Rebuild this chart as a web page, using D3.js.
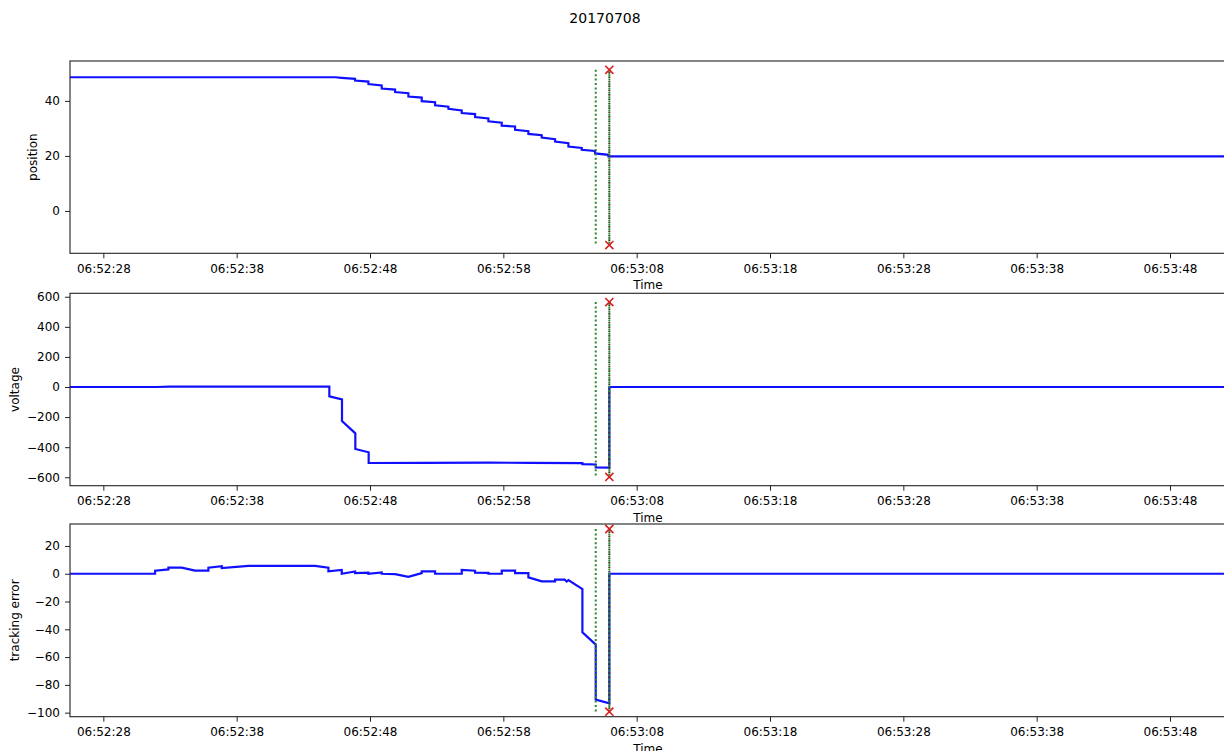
<!DOCTYPE html>
<html>
<head>
<meta charset="utf-8">
<script src="https://cdn.jsdelivr.net/npm/d3@7"></script>
<style>
  html, body { margin: 0; padding: 0; background: #fff; }
  svg { display: block; font-family: "DejaVu Sans", sans-serif; }
</style>
</head>
<body>
<svg id="chart" width="1224" height="751"></svg>
<script>
// Recording date and time axis
const recordDay = "2017-07-08";
const chartTitle = "20170708";
const timeTickLabels = ["06:52:28", "06:52:38", "06:52:48", "06:52:58", "06:53:08",
                        "06:53:18", "06:53:28", "06:53:38", "06:53:48"];
// Visible time window, seconds after 06:52:00
const timeWindow = [25.5, 112.2];

// Position trace: seconds after 06:52:00 and value
const positionTime = [25.5, 45.4, 45.88, 46.88, 46.88, 47.88, 47.88, 48.88, 48.88, 49.88, 49.88,
  50.88, 50.88, 51.88, 51.88, 52.88, 52.88, 53.88, 53.88, 54.88, 54.88, 55.88, 55.88,
  56.88, 56.88, 57.88, 57.88, 58.88, 58.88, 59.88, 59.88, 60.88, 60.88, 61.88, 61.88,
  62.88, 62.88, 63.88, 63.88, 64.88, 64.88, 65.88, 65.88, 112.2];
const positionValue = [48.6, 48.6, 48.4, 48.0, 47.4, 47.0, 46.1, 45.6, 44.5, 44.1, 43.2,
  42.8, 41.6, 41.2, 39.9, 39.5, 38.4, 37.9, 37.1, 36.5, 35.6, 35.2, 34.1,
  33.6, 32.6, 32.1, 31.0, 30.7, 29.5, 29.0, 28.0, 27.5, 26.7, 26.1, 25.2,
  24.6, 23.4, 22.9, 22.2, 21.8, 20.9, 20.4, 19.8, 19.8];

// Voltage trace
const voltageTime = [25.5, 32.0, 33.0, 40.0, 44.95, 44.95, 45.9, 45.9, 46.9, 46.9,
  47.9, 47.9, 52.0, 57.0, 60.0, 63.93, 63.93, 64.93, 64.93, 65.95, 65.95, 112.2];
const voltageValue = [0, 0, 2, 3, 3, -62, -82, -226, -308, -412,
  -434, -505, -504, -503, -504, -506, -513, -515, -534, -536, 0, 0];

// Tracking error trace
const errorTime = [25.5, 31.88, 31.88, 32.88, 32.88, 33.88, 34.88, 35.88, 35.88, 36.88,
  36.88, 38.88, 43.88, 44.88, 44.88, 45.88, 45.88, 46.88, 46.88, 47.88, 47.88, 48.88,
  48.88, 49.88, 50.88, 51.88, 51.88, 52.88, 52.88, 54.88, 54.88, 55.88, 55.88, 56.88,
  56.88, 57.88, 57.88, 58.88, 58.88, 59.88, 59.88, 60.88, 61.88, 61.88, 62.6, 62.75,
  62.88, 63.93, 63.93, 64.93, 64.93, 65.95, 65.95, 112.2];
const errorValue = [0, 0, 2.2, 3.1, 4.4, 4.4, 2.2, 2.2, 4.4, 5.4,
  4.1, 5.6, 5.6, 4.4, 1.7, 2.7, 0, 1.6, 0.4, 0.8, 0, 0.9,
  0, -0.3, -2.2, 0.5, 1.7, 1.7, 0, 0, 2.8, 2.2, 0.8, 0.6,
  0, 0, 2.2, 2.2, 0.5, 0.5, -2.6, -5.5, -5.5, -4.3, -4.3, -5.6,
  -4.6, -11, -42.2, -51, -90.6, -93.3, 0, 0];

// Event markers: vertical guide times and the top/bottom limits per panel
const eventTimes = [64.93, 65.95];
const eventTop = [51.3, 565, 32.2];
const eventBottom = [-12.4, -598, -99.3];

// Panels
const panelLabels = ["position", "voltage", "tracking error"];
const panelDomains = [[-15.4, 54.5], [-656, 623], [-102.9, 35.8]];
const panelTicks = [[0, 20, 40], [-600, -400, -200, 0, 200, 400, 600],
                    [-100, -80, -60, -40, -20, 0, 20]];
const panelTimes = [positionTime, voltageTime, errorTime];
const panelValues = [positionValue, voltageValue, errorValue];
const panelTops = [61, 293.3, 524];
const panelBottoms = [253.3, 485.7, 716.7];
const ylabelX = [33, 15, 15];

const left = 70, right = 1226;
const baseMs = Date.UTC(2017, 6, 8, 6, 52, 0);
const toDate = s => new Date(baseMs + s * 1000);
const parseTick = d3.utcParse("%Y-%m-%d %H:%M:%S");
const fmt = d3.utcFormat("%H:%M:%S");

const svg = d3.select("#chart");

svg.append("text")
  .attr("x", 605).attr("y", 23)
  .attr("text-anchor", "middle")
  .attr("font-size", 14)
  .attr("fill", "#000")
  .text(chartTitle);

const x = d3.scaleUtc().domain(timeWindow.map(toDate)).range([left, right]);
const tickDates = timeTickLabels.map(s => parseTick(recordDay + " " + s));

panelLabels.forEach((label, i) => {
  const top = panelTops[i], bottom = panelBottoms[i];
  const y = d3.scaleLinear().domain(panelDomains[i]).range([bottom, top]);
  const g = svg.append("g");

  const clipId = "clip" + i;
  svg.append("clipPath").attr("id", clipId)
    .append("rect").attr("x", left).attr("y", top)
    .attr("width", right - left).attr("height", bottom - top);

  // data line
  const pts = panelTimes[i].map((t, k) => [toDate(t), panelValues[i][k]]);
  g.append("path")
    .datum(pts)
    .attr("clip-path", `url(#${clipId})`)
    .attr("fill", "none")
    .attr("stroke", "#1010ff")
    .attr("stroke-width", 2.2)
    .attr("stroke-linejoin", "miter")
    .attr("d", d3.line().x(d => x(d[0])).y(d => y(d[1])));

  // event guide lines
  eventTimes.forEach((t, k) => {
    g.append("line")
      .attr("x1", x(toDate(t))).attr("x2", x(toDate(t)))
      .attr("y1", y(eventTop[i])).attr("y2", y(eventBottom[i]))
      .attr("stroke", "#2a8a2a").attr("stroke-width", 2)
      .attr("stroke-dasharray", "2,2.4");
    if (k === 1) {
      g.append("line")
        .attr("x1", x(toDate(t))).attr("x2", x(toDate(t)))
        .attr("y1", y(eventTop[i])).attr("y2", y(eventBottom[i]))
        .attr("stroke", "#3a3a2a").attr("stroke-width", 2)
        .attr("stroke-dasharray", "1.6,2.8").attr("stroke-dashoffset", 2.1);
    }
  });

  // end markers on the last guide
  const sym = d3.symbol().type(d3.symbolTimes).size(45);
  [eventTop[i], eventBottom[i]].forEach(v => {
    g.append("path")
      .attr("d", sym())
      .attr("transform", `translate(${x(toDate(eventTimes[1]))},${y(v)})`)
      .attr("fill", "none")
      .attr("stroke", "#d62020")
      .attr("stroke-width", 1.6);
  });

  // frame
  g.append("rect")
    .attr("x", left).attr("y", top)
    .attr("width", right - left).attr("height", bottom - top)
    .attr("fill", "none").attr("stroke", "#222").attr("stroke-width", 1.1);

  // axes
  const xAxis = d3.axisBottom(x).tickValues(tickDates).tickFormat(fmt)
    .tickSize(5).tickPadding(6);
  const gx = g.append("g").attr("transform", `translate(0,${bottom})`).call(xAxis);
  const yAxis = d3.axisLeft(y).tickValues(panelTicks[i]).tickSize(5).tickPadding(5);
  const gy = g.append("g").attr("transform", `translate(${left},0)`).call(yAxis);
  [gx, gy].forEach(a => {
    a.select(".domain").remove();
    a.selectAll("text").attr("font-size", 12).attr("fill", "#000")
      .attr("font-family", "DejaVu Sans, sans-serif");
    a.selectAll("line").attr("stroke", "#222");
  });

  g.append("text")
    .attr("x", (left + right) / 2).attr("y", bottom + 36)
    .attr("text-anchor", "middle").attr("font-size", 12).attr("fill", "#000")
    .text("Time");

  g.append("text")
    .attr("transform", `translate(${ylabelX[i] + 4},${(top + bottom) / 2}) rotate(-90)`)
    .attr("text-anchor", "middle").attr("font-size", 12).attr("fill", "#000")
    .text(label);
});
</script>
</body>
</html>
